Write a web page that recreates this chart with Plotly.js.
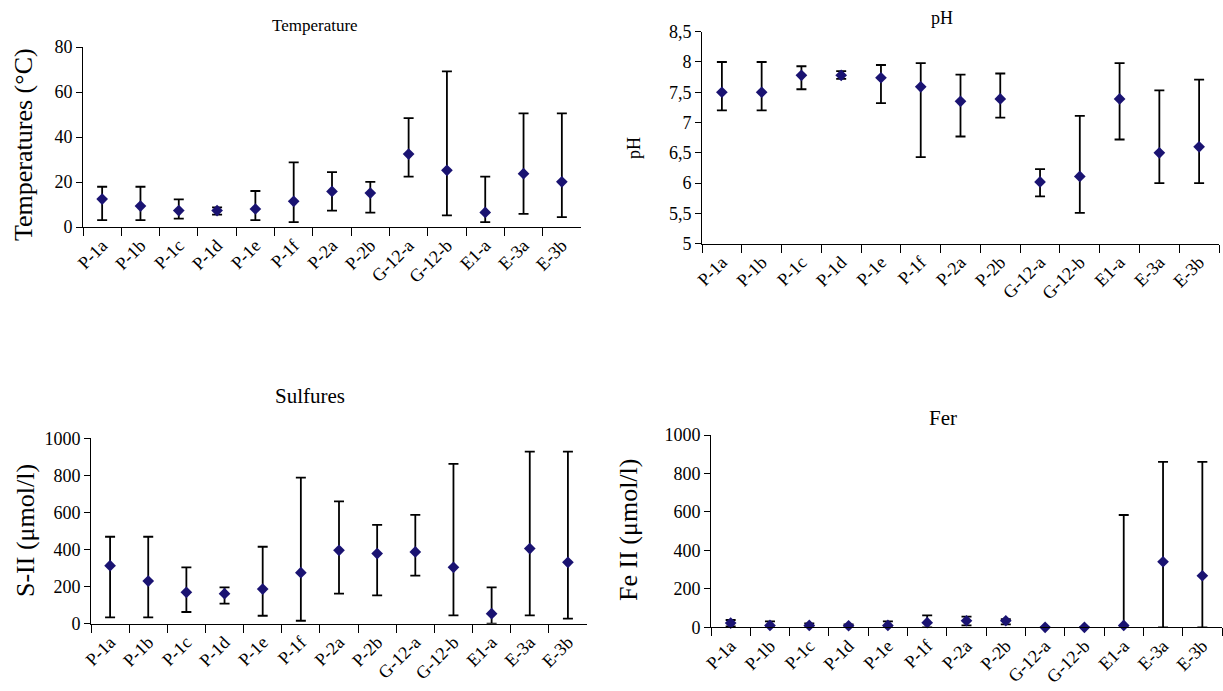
<!DOCTYPE html>
<html>
<head>
<meta charset="utf-8">
<script src="https://cdn.plot.ly/plotly-3.0.1.min.js"></script>
<style>html,body{margin:0;padding:0;background:#fff;}#chart{width:1223px;height:691px;}</style>
</head>
<body>
<div id="chart"></div>
<script>
// Stations (categories)
const stations = ['P-1a','P-1b','P-1c','P-1d','P-1e','P-1f','P-2a','P-2b','G-12-a','G-12-b','E1-a','E-3a','E-3b'];

// Temperature (°C): mean, max, min
const tempMean = [12.4, 9.3, 7.3, 7.3, 8.0, 11.4, 15.8, 15.1, 32.4, 25.2, 6.5, 23.7, 20.1];
const tempMax  = [17.9, 17.9, 12.3, 8.7, 16.0, 28.7, 24.4, 20.1, 48.4, 69.2, 22.4, 50.5, 50.5];
const tempMin  = [3.1, 3.1, 3.7, 5.5, 3.1, 2.2, 7.3, 6.4, 22.4, 5.2, 2.2, 5.8, 4.4];

// pH: mean, max, min
const phMean = [7.50, 7.50, 7.78, 7.78, 7.74, 7.59, 7.35, 7.39, 6.02, 6.11, 7.39, 6.50, 6.60];
const phMax  = [8.00, 8.00, 7.93, 7.85, 7.95, 7.98, 7.79, 7.81, 6.23, 7.11, 7.98, 7.53, 7.71];
const phMin  = [7.20, 7.20, 7.55, 7.72, 7.32, 6.43, 6.77, 7.08, 5.78, 5.51, 6.72, 6.00, 6.00];
const phTickVals = [5, 5.5, 6, 6.5, 7, 7.5, 8, 8.5];
const phTickText = ['5', '5,5', '6', '6,5', '7', '7,5', '8', '8,5'];

// Sulfures S-II (µmol/l): mean, max, min
const sMean = [313, 230, 169, 162, 187, 275, 396, 378, 387, 304, 54, 405, 331];
const sMax  = [469, 469, 304, 196, 415, 788, 660, 533, 587, 862, 196, 928, 928];
const sMin  = [34, 34, 63, 108, 43, 16, 162, 153, 259, 45, 0, 45, 27];

// Fer Fe II (µmol/l): mean, max, min
const feMean = [22, 10, 10, 8, 10, 24, 34, 34, 0, 0, 10, 341, 268];
const feMax  = [38, 31, 20, 15, 31, 62, 55, 43, 0, 0, 584, 860, 860];
const feMin  = [5, 0, 0, 0, 0, 0, 10, 15, 0, 0, 0, 0, 0];

const markerColor = '#1a1372';
const FONT = 'Liberation Serif';

function trace(mean, max, min, xa, ya) {
  return {
    type: 'scatter', mode: 'markers', x: stations, y: mean,
    xaxis: xa, yaxis: ya, cliponaxis: false, showlegend: false,
    marker: {symbol: 'diamond', size: 9, color: markerColor},
    error_y: {
      type: 'data', symmetric: false,
      array: max.map((v, i) => v - mean[i]),
      arrayminus: mean.map((v, i) => v - min[i]),
      color: '#000', thickness: 1.8, width: 5
    }
  };
}

const data = [
  trace(tempMean, tempMax, tempMin, 'x', 'y'),
  trace(phMean, phMax, phMin, 'x2', 'y2'),
  trace(sMean, sMax, sMin, 'x3', 'y3'),
  trace(feMean, feMax, feMin, 'x4', 'y4')
];

const W = 1223, H = 691;
function xDom(a, b) { return [a / W, b / W]; }
function yDom(bottomPx, topPx) { return [1 - bottomPx / H, 1 - topPx / H]; }

function xAxis(dom, anchor) {
  return {
    domain: dom, anchor: anchor, type: 'category', range: [-0.5, 12.5],
    tickson: 'boundaries', ticks: 'outside', ticklen: 8, tickwidth: 1, tickcolor: '#000',
    showline: true, linecolor: '#000', linewidth: 1, showgrid: false, zeroline: false,
    tickangle: -45, tickfont: {family: FONT, size: 18, color: '#000'}
  };
}
function yAxis(dom, anchor, range, dtick) {
  return {
    domain: dom, anchor: anchor, range: range, dtick: dtick,
    ticks: 'outside', ticklen: 6, tickwidth: 1, tickcolor: '#000',
    showline: true, linecolor: '#000', linewidth: 1, showgrid: false, zeroline: false,
    tickfont: {family: FONT, size: 18, color: '#000'}
  };
}

const y2 = yAxis(yDom(243.7, 31.7), 'x2', [5, 8.5], 0.5);
y2.tickmode = 'array'; y2.tickvals = phTickVals; y2.ticktext = phTickText;

function ann(text, xpx, ypx, size, angle) {
  return {
    text: text, x: xpx / W, y: 1 - ypx / H, xref: 'paper', yref: 'paper',
    showarrow: false, xanchor: 'center', yanchor: 'middle', textangle: angle || 0,
    font: {family: FONT, size: size, color: '#000'}
  };
}

const layout = {
  width: W, height: H,
  font: {family: FONT, color: '#000'},
  margin: {l: 0, r: 0, t: 0, b: 0},
  paper_bgcolor: '#fff', plot_bgcolor: 'rgba(0,0,0,0)',
  showlegend: false,
  xaxis: xAxis(xDom(83, 581), 'y'),
  yaxis: yAxis(yDom(227, 47), 'x', [0, 80], 20),
  xaxis2: xAxis(xDom(702, 1219), 'y2'),
  yaxis2: y2,
  xaxis3: xAxis(xDom(91, 587), 'y3'),
  yaxis3: yAxis(yDom(623.7, 438.3), 'x3', [0, 1000], 200),
  xaxis4: xAxis(xDom(711, 1222), 'y4'),
  yaxis4: yAxis(yDom(627.3, 435), 'x4', [0, 1000], 200),
  annotations: [
    ann('Temperature', 315, 25, 17),
    ann('pH', 942, 18, 18),
    ann('Sulfures', 310, 396, 21),
    ann('Fer', 943, 418, 21),
    ann('Temperatures (°C)', 23, 145, 26, -90),
    ann('pH', 634, 148, 18, -90),
    ann('S-II (μmol/l)', 25, 531, 26, -90),
    ann('Fe II (μmol/l)', 628, 530, 26, -90)
  ]
};

Plotly.newPlot('chart', data, layout, {displayModeBar: false, staticPlot: true});
</script>
</body>
</html>
